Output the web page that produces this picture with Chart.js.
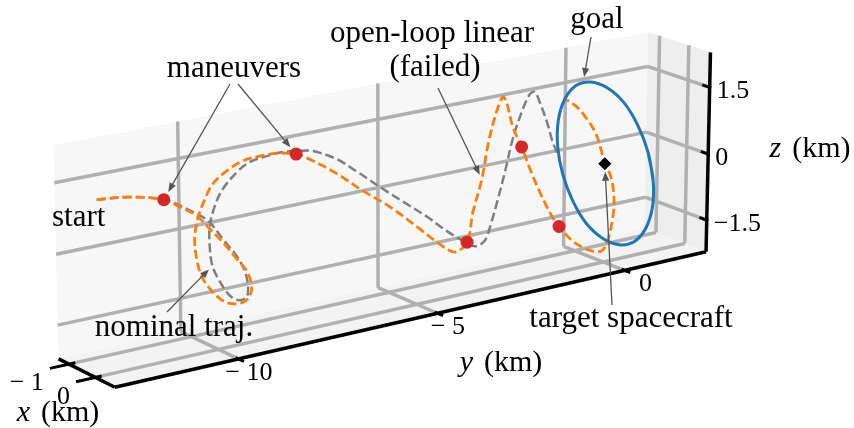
<!DOCTYPE html>
<html>
<head>
<meta charset="utf-8">
<script src="https://cdn.jsdelivr.net/npm/chart.js@4.4.1/dist/chart.umd.min.js"></script>
<style>
  html, body { margin: 0; padding: 0; background: #fff; }
  #wrap { width: 854px; height: 428px; }
</style>
</head>
<body>
<div id="wrap"><canvas id="traj" width="854" height="428"></canvas></div>
<script>
// axes (km, target-centred frame)
const xLim = [-1.4, 0.73];
const yLim = [-12.95, 2.28];
const zLim = [-2.22, 2.28];
const xTicks = [-1, 0];
const yTicks = [-10, -5, 0];
const zTicks = [-1.5, 0, 1.5];
const xTickLabels = ['\u2212 1', '0'];
const yTickLabels = ['\u2212 10', '\u2212 5', '0'];
const zTickLabels = ['\u22121.5', '0', '1.5'];

// both transfers stay in the x = 0 plane
const transferX = 0;
const openLoopY = [-12.83, -12.08, -11.26, -10.88, -10.49, -10.18, -9.87, -9.53, -9.28, -9.17,
  -9.22, -9.39, -9.71, -9.95, -10.20, -10.39, -10.50, -10.54, -10.46, -10.28,
  -10.08, -9.74, -9.35, -8.94, -8.52, -8.05, -7.71, -7.04, -6.39, -5.70,
  -4.93, -4.41, -4.01, -3.69, -3.54, -3.31, -3.16, -2.97, -2.77, -2.66,
  -2.50, -2.26, -2.03, -1.76, -1.43, -1.23, -0.85, -0.37, -0.04, 0.12,
  0.25, 0.27, 0.21, 0.09, 0.0, -0.14, -0.28, -0.51, -0.79, -1.06];
const openLoopZ = [1.47, 1.39, 1.19, 0.97, 0.72, 0.39, 0.05, -0.37, -0.69, -1.01,
  -1.23, -1.33, -1.29, -1.14, -0.87, -0.57, -0.18, 0.25, 0.64, 1.03,
  1.32, 1.53, 1.67, 1.70, 1.69, 1.59, 1.42, 1.00, 0.52, 0.05,
  -0.57, -1.00, -1.25, -1.09, -0.45, 0.23, 0.93, 1.55, 1.94, 1.77,
  1.24, 0.76, 0.23, -0.33, -0.92, -1.19, -1.59, -1.89, -1.95, -1.72,
  -1.22, -0.85, -0.45, -0.13, 0.0, 0.43, 0.76, 1.09, 1.40, 1.60];
const nominalY = [-12.83, -12.08, -11.26, -10.49, -10.18, -9.86, -9.53, -9.33, -9.26, -9.29,
  -9.47, -9.71, -9.95, -10.12, -10.18, -10.17, -10.04, -9.85, -9.50, -9.18,
  -8.77, -8.37, -8.00, -7.65, -7.04, -6.54, -5.96, -5.36, -4.74, -4.22,
  -3.80, -3.48, -3.22, -3.08, -2.90, -2.70, -2.50, -2.27, -2.05, -1.92,
  -1.79, -1.59, -1.43, -1.29];
const nominalZ = [1.47, 1.39, 1.19, 0.76, 0.53, 0.11, -0.31, -0.68, -0.99, -1.22,
  -1.27, -1.12, -0.77, -0.41, 0.03, 0.45, 0.85, 1.16, 1.46, 1.62,
  1.67, 1.69, 1.65, 1.59, 1.31, 0.96, 0.53, 0.10, -0.34, -0.75,
  -1.04, -1.22, -1.14, -0.85, -0.34, 0.28, 0.97, 1.52, 1.89, 1.91,
  1.67, 1.20, 0.73, 0.44];
const maneuverY = [-11.26, -8.05, -3.69, -2.26, -1.23];
const maneuverZ = [1.19, 1.59, -1.09, 0.76, -1.19];

// goal orbit around the target (closed, first two points repeated)
const goalX = [1.65, 1.55, 1.26, 0.83, 0.29, -0.29, -0.83, -1.26, -1.55, -1.65,
  -1.55, -1.26, -0.83, -0.29, 0.29, 0.83, 1.26, 1.55, 1.65, 1.55];
const goalY = [0, -0.07, -0.13, -0.17, -0.2, -0.2, -0.17, -0.13, -0.07, 0,
  0.07, 0.13, 0.17, 0.2, 0.2, 0.17, 0.13, 0.07, 0, -0.07];
const goalZ = [0, 0.62, 1.17, 1.58, 1.79, 1.79, 1.58, 1.17, 0.62, 0,
  -0.62, -1.17, -1.58, -1.79, -1.79, -1.58, -1.17, -0.62, 0, 0.62];
const target = [0, 0, 0];

// camera: looks at viewCenter from camDist km away
const W = 854, H = 428;
const elevDeg = 16.9, azimDeg = -35.8, camDist = 90;
const viewCenter = [-0.335, -5.35, 0.03];
const pxPerKm = 47.9, centerPx = [394, 201];

const el = elevDeg * Math.PI / 180, az = azimDeg * Math.PI / 180;
const ce = Math.cos(el), se = Math.sin(el), ca = Math.cos(az), sa = Math.sin(az);

function P(x, y, z) {
  const dx = x - viewCenter[0], dy = y - viewCenter[1], dz = z - viewCenter[2];
  const right = -sa * dx + ca * dy;
  const up = -se * ca * dx - se * sa * dy + ce * dz;
  const depth = -ce * ca * dx - ce * sa * dy - se * dz;
  const k = camDist / (camDist + depth);
  return { x: right * k, y: up * k };
}

function segments(list) {
  const pts = [];
  list.forEach(([a, b]) => { pts.push(P(...a), P(...b), { x: NaN, y: NaN }); });
  return pts;
}

const [x0, x1] = xLim, [y0, y1] = yLim, [z0, z1] = zLim;

const gridSegs = [];
yTicks.forEach(y => gridSegs.push([[x0, y, z0], [x0, y, z1]], [[x0, y, z0], [x1, y, z0]]));
zTicks.forEach(z => gridSegs.push([[x0, y0, z], [x0, y1, z]], [[x0, y1, z], [x1, y1, z]]));
xTicks.forEach(x => gridSegs.push([[x, y0, z0], [x, y1, z0]], [[x, y1, z0], [x, y1, z1]]));

const axisSegs = [
  [[x0, y0, z0], [x1, y0, z0]],
  [[x1, y0, z0], [x1, y1, z0]],
  [[x1, y1, z0], [x1, y1, z1]]
];
const tickSegs = [];
xTicks.forEach(x => tickSegs.push([[x, y0 + 0.15, z0], [x, y0 - 0.45, z0]]));
yTicks.forEach(y => tickSegs.push([[x1 - 0.1, y, z0], [x1 + 0.2, y, z0]]));
zTicks.forEach(z => tickSegs.push([[x1 - 0.25, y1, z], [x1 + 0.05, y1, z]]));

const lineBase = { showLine: true, pointRadius: 0, pointHoverRadius: 0, spanGaps: false };

const datasets = [
  { ...lineBase, label: 'grid', data: segments(gridSegs), borderColor: '#b0b0b0', borderWidth: 3.5, tension: 0, order: 20 },
  { ...lineBase, label: 'axes', data: segments(axisSegs), borderColor: '#000', borderWidth: 3.5, tension: 0, order: 19 },
  { ...lineBase, label: 'ticks', data: segments(tickSegs), borderColor: '#000', borderWidth: 3, tension: 0, order: 18 },
  { ...lineBase, label: 'nominal traj.', data: nominalY.map((y, i) => P(transferX, y, nominalZ[i])),
    borderColor: '#7f7f7f', borderWidth: 2.5, borderDash: [9, 4], tension: 0.35, order: 6 },
  { ...lineBase, label: 'open-loop linear', data: openLoopY.map((y, i) => P(transferX, y, openLoopZ[i])),
    borderColor: '#ff7f0e', borderWidth: 2.8, borderDash: [9, 4], tension: 0.35, order: 5 },
  { ...lineBase, label: 'goal', data: goalX.map((x, i) => P(x, goalY[i], goalZ[i])),
    borderColor: '#1f77b4', borderWidth: 3, tension: 0.4, order: 4 },
  { label: 'maneuvers', data: maneuverY.map((y, i) => P(transferX, y, maneuverZ[i])), showLine: false,
    pointRadius: 6.5, pointHoverRadius: 6.5, backgroundColor: '#d62728', borderWidth: 0, order: 3 },
  { label: 'target', data: [P(...target)], showLine: false, pointStyle: 'rectRot',
    pointRadius: 6, pointHoverRadius: 6, backgroundColor: '#000', borderColor: '#000', borderWidth: 1, order: 2 }
];

// light panes behind the grid
const panes = {
  id: 'panes',
  beforeDatasetsDraw(chart) {
    const { ctx, scales: { x: sx, y: sy } } = chart;
    const faces = [
      { fill: '#f7f7f7', pts: [[x0, y0, z0], [x0, y1, z0], [x0, y1, z1], [x0, y0, z1]] },
      { fill: '#f3f3f3', pts: [[x0, y0, z0], [x1, y0, z0], [x1, y1, z0], [x0, y1, z0]] },
      { fill: '#eeeeee', pts: [[x0, y1, z0], [x1, y1, z0], [x1, y1, z1], [x0, y1, z1]] }
    ];
    ctx.save();
    faces.forEach(f => {
      ctx.beginPath();
      f.pts.forEach((p, i) => {
        const q = P(...p);
        const px = sx.getPixelForValue(q.x), py = sy.getPixelForValue(q.y);
        if (i === 0) ctx.moveTo(px, py); else ctx.lineTo(px, py);
      });
      ctx.closePath();
      ctx.fillStyle = f.fill;
      ctx.fill();
    });
    ctx.restore();
  }
};

const serif = '"Liberation Serif", "DejaVu Serif", serif';

function drawArrow(ctx, from, to, shrink) {
  const dx = to[0] - from[0], dy = to[1] - from[1];
  const L = Math.hypot(dx, dy), ux = dx / L, uy = dy / L;
  const tx = to[0] - ux * shrink, ty = to[1] - uy * shrink;
  const head = 9, hw = 3.6;
  ctx.beginPath();
  ctx.moveTo(from[0], from[1]);
  ctx.lineTo(tx - ux * head * 0.7, ty - uy * head * 0.7);
  ctx.stroke();
  ctx.beginPath();
  ctx.moveTo(tx, ty);
  ctx.lineTo(tx - ux * head - uy * hw, ty - uy * head + ux * hw);
  ctx.lineTo(tx - ux * head + uy * hw, ty - uy * head - ux * hw);
  ctx.closePath();
  ctx.fill();
}

function axisLabel(ctx, letter, cx, base) {
  ctx.font = 'italic 30px ' + serif;
  const w1 = ctx.measureText(letter).width;
  ctx.font = '30px ' + serif;
  const w2 = ctx.measureText('(km)').width;
  const gap = 11;
  const left = cx - (w1 + gap + w2) / 2;
  ctx.textAlign = 'left';
  ctx.font = 'italic 30px ' + serif;
  ctx.fillText(letter, left, base);
  ctx.font = '30px ' + serif;
  ctx.fillText('(km)', left + w1 + gap, base);
}

const labels = {
  id: 'labels',
  afterDatasetsDraw(chart) {
    const { ctx, scales: { x: sx, y: sy } } = chart;
    const px = (p) => { const q = P(...p); return [sx.getPixelForValue(q.x), sy.getPixelForValue(q.y)]; };
    ctx.save();
    ctx.fillStyle = '#000';
    ctx.textBaseline = 'alphabetic';

    // tick labels
    ctx.font = '26px ' + serif;
    ctx.textAlign = 'right';
    xTicks.forEach((x, i) => { const [a, b] = px([x, y0 - 0.45, z0]); ctx.fillText(xTickLabels[i], a - 6, b + 22); });
    ctx.textAlign = 'left';
    yTicks.forEach((y, i) => {
      // digits centred below the tick, sign hanging to the left
      const [a, b] = px([x1, y, z0]);
      const lab = yTickLabels[i], digits = lab.replace(/^\u2212 /, '');
      const wDigits = ctx.measureText(digits).width, wAll = ctx.measureText(lab).width;
      ctx.fillText(lab, a + 21 - wDigits / 2 - (wAll - wDigits), b + 21);
    });
    zTicks.forEach((z, i) => { const [a, b] = px([x1, y1, z]); ctx.fillText(zTickLabels[i], a + 7, b + 11); });

    // axis titles
    axisLabel(ctx, 'x', 58, 421);
    axisLabel(ctx, 'y', 501, 371);
    axisLabel(ctx, 'z', 810, 157);

    // annotations
    ctx.font = '31px ' + serif;
    ctx.textAlign = 'center';
    ctx.fillText('maneuvers', 234, 77);
    ctx.fillText('open-loop linear', 432, 42);
    ctx.fillText('(failed)', 435, 76);
    ctx.fillText('goal', 597, 28);
    ctx.fillText('nominal traj.', 174, 336);
    ctx.fillText('target spacecraft', 631, 327);
    ctx.textAlign = 'left';
    ctx.fillText('start', 52, 226);

    ctx.strokeStyle = '#555';
    ctx.fillStyle = '#555';
    ctx.lineWidth = 1.3;
    drawArrow(ctx, [230, 84], px([transferX, maneuverY[0], maneuverZ[0]]), 9);
    drawArrow(ctx, [238, 84], px([transferX, maneuverY[1], maneuverZ[1]]), 9);
    drawArrow(ctx, [438, 88], px([transferX, openLoopY[35], openLoopZ[35]]), 5);
    const g5 = px([goalX[5], goalY[5], goalZ[5]]), g6 = px([goalX[6], goalY[6], goalZ[6]]);
    drawArrow(ctx, [591, 37], [(g5[0] + g6[0]) / 2, (g5[1] + g6[1]) / 2], 7);
    drawArrow(ctx, [167, 312], px([transferX, nominalY[13], nominalZ[13]]), 5);
    drawArrow(ctx, [612, 305], px(target), 8);
    ctx.restore();
  }
};

new Chart(document.getElementById('traj'), {
  type: 'scatter',
  data: { datasets },
  options: {
    responsive: false,
    animation: false,
    devicePixelRatio: 1,
    events: [],
    layout: { padding: 0, autoPadding: false },
    plugins: { legend: { display: false }, tooltip: { enabled: false } },
    scales: {
      x: { type: 'linear', display: false, min: -centerPx[0] / pxPerKm, max: (W - centerPx[0]) / pxPerKm },
      y: { type: 'linear', display: false, min: (centerPx[1] - H) / pxPerKm, max: centerPx[1] / pxPerKm }
    }
  },
  plugins: [panes, labels]
});
</script>
</body>
</html>
